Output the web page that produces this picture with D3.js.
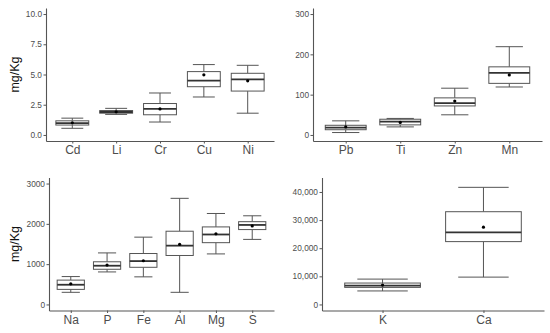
<!DOCTYPE html>
<html>
<head>
<meta charset="utf-8">
<script src="https://cdn.jsdelivr.net/npm/d3@7"></script>
<style>
  body { margin: 0; background: #fff; }
  svg { display: block; font-family: "Liberation Sans", Arial, sans-serif; }
</style>
</head>
<body>
<svg id="chart" width="550" height="333"></svg>
<script>
// top-left panel
const trace1Cats = ['Cd', 'Li', 'Cr', 'Cu', 'Ni']
const trace1Low = [0.55, 1.7, 1.07, 3.14, 1.8]
const trace1Q1 = [0.82, 1.8, 1.67, 3.99, 3.63]
const trace1Med = [0.98, 1.9, 2.16, 4.5, 4.59]
const trace1Q3 = [1.17, 2.02, 2.6, 5.24, 5.1]
const trace1High = [1.39, 2.2, 3.47, 5.82, 5.76]
const trace1Mean = [1.0, 1.92, 2.15, 4.97, 4.48]
const trace1Ticks = [0, 2.5, 5, 7.5, 10]

// top-right panel
const trace2Cats = ['Pb', 'Ti', 'Zn', 'Mn']
const trace2Low = [6, 20, 50, 119]
const trace2Q1 = [13, 25, 72, 128]
const trace2Med = [18, 33, 79, 154]
const trace2Q3 = [24, 39, 92, 169]
const trace2High = [35, 41, 116, 219]
const trace2Mean = [20, 31, 84, 149]
const trace2Ticks = [0, 100, 200, 300]

// bottom-left panel
const trace3Cats = ['Na', 'P', 'Fe', 'Al', 'Mg', 'S']
const trace3Low = [301, 807, 685, 301, 1254, 1614]
const trace3Q1 = [374, 873, 922, 1215, 1533, 1858]
const trace3Med = [489, 961, 1076, 1459, 1736, 1973]
const trace3Q3 = [604, 1059, 1264, 1817, 1924, 2054]
const trace3High = [692, 1279, 1670, 2633, 2257, 2200]
const trace3Mean = [513, 978, 1084, 1491, 1753, 1948]
const trace3Ticks = [0, 1000, 2000, 3000]

// bottom-right panel
const trace4Cats = ['K', 'Ca']
const trace4Low = [4807, 9720]
const trace4Q1 = [6070, 22350]
const trace4Med = [6667, 25617]
const trace4Q3 = [7614, 32985]
const trace4High = [9018, 41650]
const trace4Mean = [6900, 27480]
const trace4Ticks = [0, 10000, 20000, 30000, 40000]

const svg = d3.select('#chart')

const panels = [
	{cats: trace1Cats, low: trace1Low, q1: trace1Q1, med: trace1Med, q3: trace1Q3, high: trace1High, mean: trace1Mean,
	 ticks: trace1Ticks, lim: [0, 10], fmt: d3.format('.1f'), x0: 46, x1: 274, y0: 8, y1: 141, ylab: true},
	{cats: trace2Cats, low: trace2Low, q1: trace2Q1, med: trace2Med, q3: trace2Q3, high: trace2High, mean: trace2Mean,
	 ticks: trace2Ticks, lim: [0, 300], fmt: d3.format('d'), x0: 313, x1: 542, y0: 8, y1: 141, ylab: false},
	{cats: trace3Cats, low: trace3Low, q1: trace3Q1, med: trace3Med, q3: trace3Q3, high: trace3High, mean: trace3Mean,
	 ticks: trace3Ticks, lim: [0, 3000], fmt: d3.format('d'), x0: 49, x1: 274, y0: 177.5, y1: 310.5, ylab: true},
	{cats: trace4Cats, low: trace4Low, q1: trace4Q1, med: trace4Med, q3: trace4Q3, high: trace4High, mean: trace4Mean,
	 ticks: trace4Ticks, lim: [0, 43000], fmt: d3.format(','), x0: 322, x1: 544, y0: 177.5, y1: 310.5, ylab: false}
]

panels.forEach(p => {
	const n = p.cats.length
	const span = p.lim[1] - p.lim[0]

	// ggplot-style discrete expansion (0.6 units each side)
	const x = d3.scaleLinear().domain([0.4, n + 0.6]).range([p.x0, p.x1])
	const unit = x(2) - x(1)
	const y = d3.scaleLinear()
		.domain([p.lim[0] - 0.05 * span, p.lim[1] + 0.05 * span])
		.range([p.y1, p.y0])

	const g = svg.append('g')

	// y axis
	const ya = g.append('g')
		.attr('transform', 'translate(' + p.x0 + ',0)')
		.call(d3.axisLeft(y).tickValues(p.ticks).tickFormat(p.fmt).tickSize(2.5).tickPadding(1.5).tickSizeOuter(0))
	ya.select('.domain').attr('stroke', '#555').attr('stroke-width', 1.1)
	ya.selectAll('.tick line').attr('stroke', '#555')
	ya.selectAll('.tick text').attr('fill', '#4d4d4d').style('font-size', '8.3px')

	// x axis
	const xa = g.append('g')
		.attr('transform', 'translate(0,' + p.y1 + ')')
		.call(d3.axisBottom(x).tickValues(d3.range(1, n + 1)).tickFormat(i => p.cats[i - 1]).tickSize(2.5).tickPadding(2).tickSizeOuter(0))
	xa.select('.domain').attr('stroke', '#555').attr('stroke-width', 1.1)
	xa.selectAll('.tick line').attr('stroke', '#555')
	xa.selectAll('.tick text').attr('fill', '#4d4d4d').style('font-size', '12px')

	const idx = d3.range(n)
	const bw = unit * 0.75
	const cw = unit * 0.5

	// whiskers
	g.selectAll('.wh').data(idx).join('line')
		.attr('x1', i => x(i + 1)).attr('x2', i => x(i + 1))
		.attr('y1', i => y(p.high[i])).attr('y2', i => y(p.q3[i]))
		.attr('stroke', '#555').attr('stroke-width', 1)
	g.selectAll('.wl').data(idx).join('line')
		.attr('x1', i => x(i + 1)).attr('x2', i => x(i + 1))
		.attr('y1', i => y(p.low[i])).attr('y2', i => y(p.q1[i]))
		.attr('stroke', '#555').attr('stroke-width', 1)
	// caps
	;['high', 'low'].forEach(k => {
		g.selectAll('.cap-' + k).data(idx).join('line')
			.attr('x1', i => x(i + 1) - cw / 2).attr('x2', i => x(i + 1) + cw / 2)
			.attr('y1', i => y(p[k][i])).attr('y2', i => y(p[k][i]))
			.attr('stroke', '#555').attr('stroke-width', 1)
	})

	// boxes
	g.selectAll('rect.box').data(idx).join('rect')
		.attr('x', i => x(i + 1) - bw / 2)
		.attr('width', bw)
		.attr('y', i => y(p.q3[i]))
		.attr('height', i => y(p.q1[i]) - y(p.q3[i]))
		.attr('fill', '#fff').attr('stroke', '#555').attr('stroke-width', 1)

	// medians
	g.selectAll('line.med').data(idx).join('line')
		.attr('x1', i => x(i + 1) - bw / 2).attr('x2', i => x(i + 1) + bw / 2)
		.attr('y1', i => y(p.med[i])).attr('y2', i => y(p.med[i]))
		.attr('stroke', '#333').attr('stroke-width', 1.8)

	// means
	g.selectAll('circle.mean').data(idx).join('circle')
		.attr('cx', i => x(i + 1)).attr('cy', i => y(p.mean[i]))
		.attr('r', 1.6).attr('fill', '#000')

	if (p.ylab) {
		g.append('text')
			.attr('transform', 'translate(15,' + ((p.y0 + p.y1) / 2) + ') rotate(-90)')
			.attr('text-anchor', 'middle')
			.attr('dy', '0.35em')
			.attr('fill', '#111')
			.style('font-size', '12.5px')
			.text('mg/Kg')
	}
})
</script>
</body>
</html>
